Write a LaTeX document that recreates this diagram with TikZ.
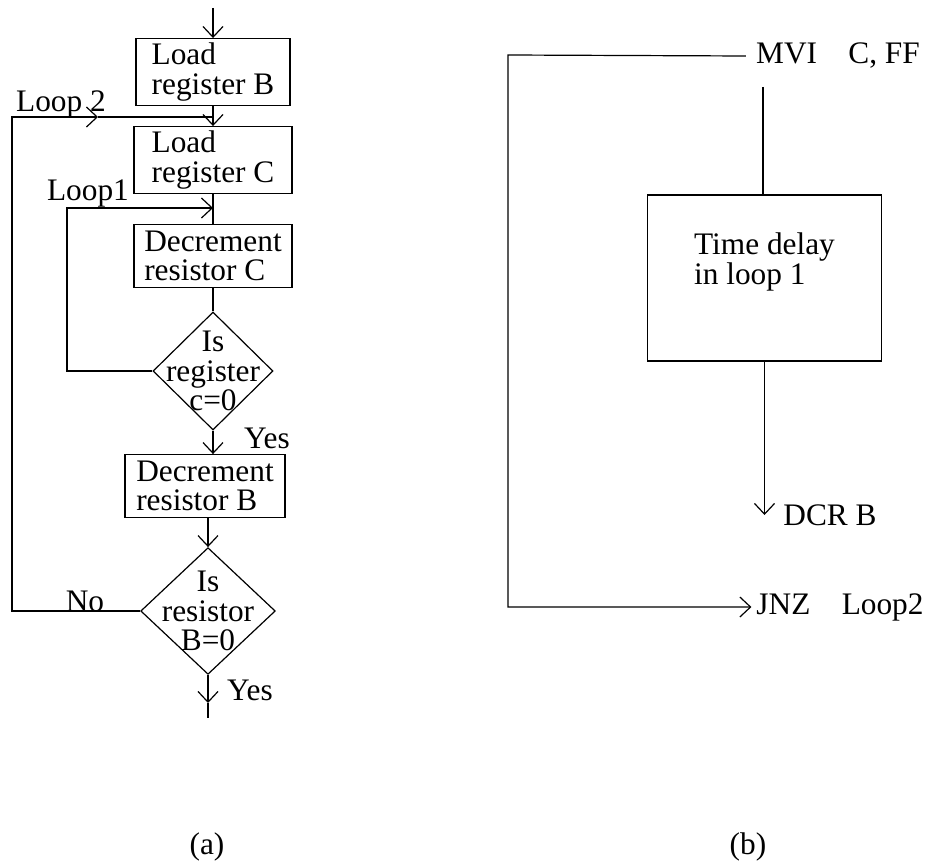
\documentclass[tikz,border=0pt]{standalone}
\usepackage{fontspec}
\setmainfont{Liberation Serif}
\usetikzlibrary{arrows.meta,shapes.geometric}

\begin{document}
\begin{tikzpicture}[x=0.75pt,y=-0.75pt,>={Straight Barb[length=8pt,width=15pt]},
  line width=0.9pt,font=\fontsize{23.5}{22}\selectfont,
  blk/.style={draw,rectangle,align=left},
  dia/.style={draw,diamond,inner sep=0pt,aspect=1}]
\useasboundingbox (0,0) rectangle (930,863);
% (a) flowchart
\node[blk,minimum width=115.5pt,minimum height=46.5pt] (ldb) at (213,72) {Load\\register B};
\node[blk,minimum width=118.5pt,minimum height=45pt] (ldc) at (213,160) {Load\\register C};
\node[blk,minimum width=118.5pt,minimum height=47pt] (dcc) at (213,256) {Decrement\\resistor C};
\node[dia,minimum width=90pt,minimum height=88.5pt] (isc) at (213,371) {};
\node[align=center] (isctxt) at (isc) {Is\\register\\c=0};
\node[blk,minimum width=120pt,minimum height=47pt] (dcb) at (205,486) {Decrement\\resistor B};
\node[dia,minimum width=101pt,minimum height=95pt] (isb) at (208,611) {};
\node[align=center] (isbtxt) at (isb) {Is\\resistor\\B=0};
\coordinate (entry) at (213,8);
\coordinate (yesmid) at (208,703);
\coordinate (exit) at (208,718);
\coordinate (lpa) at (67,208);
\coordinate (lpb) at (12,117);
\coordinate (lpbmid) at (98,117);
\draw[->] (entry) -- (ldb.north);
\draw[->] (ldb.south) -- (ldc.north);
\draw (ldc.south) -- (dcc.north);
\draw (dcc.south) -- (isc.north);
\draw[->] (isc.south) -- (isc.south |- dcb.north);
\draw[->] (isb.north |- dcb.south) -- (isb.north);
\draw[->] (isb.south) -- (yesmid);
\draw (yesmid) -- (exit);
% loop 1
\draw[->] (isc.west) -- (isc.west -| lpa) -- (lpa) -- (lpa -| dcc.north);
% loop 2
\draw[->] (isb.west) -- (isb.west -| lpb) -- (lpb) -- (lpbmid);
\draw (lpbmid) -- (lpb -| ldb.south);
\node (lpbl) at (61,104) {Loop 2};
\node (lpal) at (88,193) {Loop1};
\node (nol) at (85,601) {No};
\node (yesa) at (267,438) {Yes};
\node (yesb) at (250,690) {Yes};
% (b) program
\node (mvi) at (838,56) {MVI\quad C, FF};
\node[blk,minimum width=175pt,minimum height=124.5pt,text depth=29pt] (tdly) at (764.5,278) {Time delay\\in loop 1};
\node (dcr) at (830,515) {DCR B};
\node (jnz) at (840,607) {JNZ\quad Loop2};
\coordinate (rtop) at (508,55);
\coordinate (tdin) at (763,87);
\draw[->] ([xshift=-4pt]mvi.west) -- (rtop) -- (rtop |- jnz.west) -- (jnz.west);
\draw (tdin) -- (tdin |- tdly.north);
\draw[->] (tdly.south) -- (tdly.south |- dcr.west);
\node (capa) at (207,847) {(a)};
\node (capb) at (748,847) {(b)};
\end{tikzpicture}
\end{document}
